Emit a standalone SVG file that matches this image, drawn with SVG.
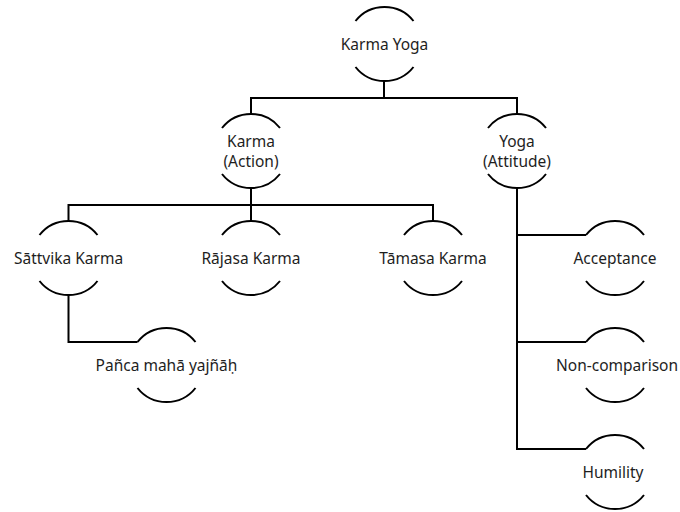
<svg xmlns="http://www.w3.org/2000/svg" xmlns:xlink="http://www.w3.org/1999/xlink" width="680" height="512" viewBox="0 0 680 512">
  <style>
    .arc { fill: none; stroke: #000; stroke-width: 2; }
    .wire { fill: none; stroke: #000; stroke-width: 2; stroke-linejoin: miter; }
    .label { font-family: "Noto Sans", "Open Sans", sans-serif; font-size: 15.5px; fill: #1e1e1e; text-anchor: middle; }
  </style>
  <defs>
    <!-- open circle: upper and lower arcs of a r=37 circle, centred on the origin -->
    <g id="ring">
      <path class="arc" d="M-29 -23 A37 37 0 0 1 29 -23"/>
      <path class="arc" d="M-29 23 A37 37 0 0 0 29 23"/>
    </g>
  </defs>
  <rect width="680" height="512" fill="#fff"/>

  <!-- tree connectors -->
  <g id="connectors">
    <path class="wire" d="M384 81 V98"/>
    <path class="wire" d="M251 114 V98 H517 V114"/>
    <path class="wire" d="M251 188 V221"/>
    <path class="wire" d="M68.5 221 V205 H433 V221"/>
    <path class="wire" d="M68.5 295 V342 H137.5"/>
    <path class="wire" d="M517 188 V449 H586"/>
    <path class="wire" d="M517 235 H586"/>
    <path class="wire" d="M517 342 H586"/>
  </g>

  <g id="karma-yoga">
    <use xlink:href="#ring" x="384.5" y="44"/>
    <text class="label" x="384.5" y="49.5">Karma Yoga</text>
  </g>
  <g id="karma">
    <use xlink:href="#ring" x="251" y="151"/>
    <text class="label" x="251" y="146.5">Karma</text>
    <text class="label" x="251" y="166.5">(Action)</text>
  </g>
  <g id="yoga">
    <use xlink:href="#ring" x="517" y="151"/>
    <text class="label" x="517" y="146.5">Yoga</text>
    <text class="label" x="517" y="166.5">(Attitude)</text>
  </g>
  <g id="sattvika-karma">
    <use xlink:href="#ring" x="68.5" y="258"/>
    <text class="label" x="68.5" y="263.5">Sāttvika Karma</text>
  </g>
  <g id="rajasa-karma">
    <use xlink:href="#ring" x="251" y="258"/>
    <text class="label" x="251" y="263.5">Rājasa Karma</text>
  </g>
  <g id="tamasa-karma">
    <use xlink:href="#ring" x="433" y="258"/>
    <text class="label" x="433" y="263.5">Tāmasa Karma</text>
  </g>
  <g id="panca-maha-yajnah">
    <use xlink:href="#ring" x="166.5" y="365"/>
    <text class="label" x="166.5" y="370.5">Pañca mahā yajñāḥ</text>
  </g>
  <g id="acceptance">
    <use xlink:href="#ring" x="615" y="258"/>
    <text class="label" x="615" y="263.5">Acceptance</text>
  </g>
  <g id="non-comparison">
    <use xlink:href="#ring" x="615" y="365"/>
    <text class="label" x="617" y="370.5">Non-comparison</text>
  </g>
  <g id="humility">
    <use xlink:href="#ring" x="615" y="472"/>
    <text class="label" x="613" y="477.5">Humility</text>
  </g>
</svg>
